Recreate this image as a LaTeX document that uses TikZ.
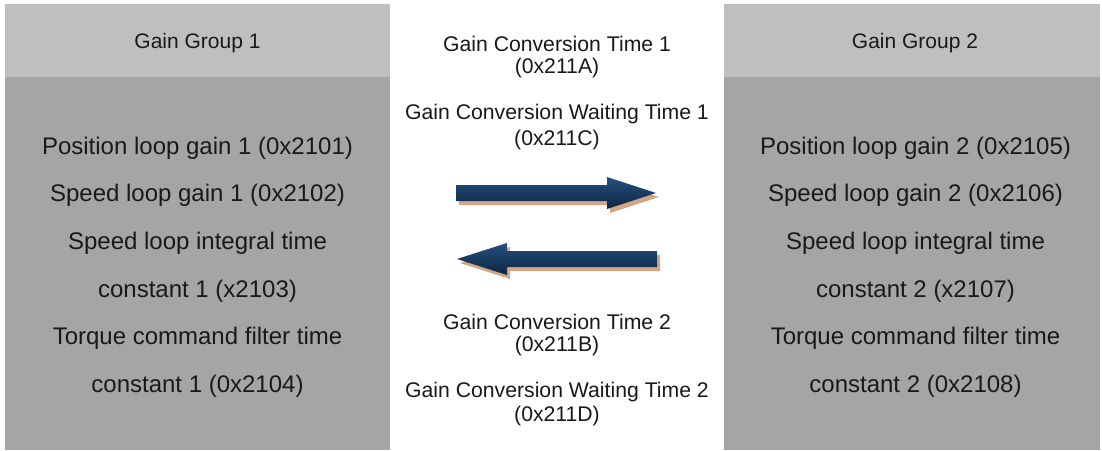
\documentclass[tikz,border=0pt]{standalone}
\usepackage{fontspec}
\setmainfont{Liberation Sans}
\definecolor{hdr}{HTML}{BFBFBF}
\definecolor{bod}{HTML}{A5A5A5}
\definecolor{shd}{HTML}{D2A687}
\definecolor{navytop}{HTML}{24507F}
\definecolor{navybot}{HTML}{0E2440}
\begin{document}
\begin{tikzpicture}[x=1pt,y=-1pt,
  big/.style={font=\fontsize{24}{24}\selectfont, text=black!90, inner sep=0pt, anchor=center},
  mid/.style={font=\fontsize{21.2}{21.2}\selectfont, text=black!90, inner sep=0pt, anchor=center},
  hd/.style={font=\fontsize{21}{21}\selectfont, text=black!90, inner sep=0pt, anchor=center},
  arrowfill/.style={top color=navytop, bottom color=navybot}]
\useasboundingbox (0,0) rectangle (1102,450);
\fill[white] (0,0) rectangle (1102,450);
% panels
\fill[hdr] (5,4) rectangle (390,77);
\fill[bod] (5,77) rectangle (390,450);
\fill[hdr] (724,4) rectangle (1100,77);
\fill[bod] (724,77) rectangle (1100,450);
\node[hd] (g1) at (197.5,43) {Gain Group 1};
\node[hd] (g2) at (915,43) {Gain Group 2};
% left lines
\node[big] (l1) at (197.5,148) {Position loop gain 1 (0x2101)};
\node[big] (l2) at (197.5,195) {Speed loop gain 1 (0x2102)};
\node[big] (l3) at (197.5,243) {Speed loop integral time};
\node[big] (l4) at (197.5,291) {constant 1 (x2103)};
\node[big] (l5) at (197.5,338) {Torque command filter time};
\node[big] (l6) at (197.5,386) {constant 1 (0x2104)};
% right lines
\node[big] (r1) at (915.5,148) {Position loop gain 2 (0x2105)};
\node[big] (r2) at (915.5,195) {Speed loop gain 2 (0x2106)};
\node[big] (r3) at (915.5,243) {Speed loop integral time};
\node[big] (r4) at (915.5,291) {constant 2 (x2107)};
\node[big] (r5) at (915.5,338) {Torque command filter time};
\node[big] (r6) at (915.5,386) {constant 2 (0x2108)};
% center texts
\node[mid] (c1) at (557,43.5) {Gain Conversion Time 1};
\node[mid] (c1b) at (557,68.5) {(0x211A)};
\node[mid] (c2) at (557,114.5) {Gain Conversion Waiting Time 1};
\node[mid] (c2b) at (557,140) {(0x211C)};
\node[mid] (c3) at (557,321.5) {Gain Conversion Time 2};
\node[mid] (c3b) at (557,346.5) {(0x211B)};
\node[mid] (c4) at (557,392.5) {Gain Conversion Waiting Time 2};
\node[mid] (c4b) at (557,416.5) {(0x211D)};
% right arrow
\fill[shd,shift={(3,4)}] (456,185) -- (607,185) -- (607,177) -- (656,193) -- (607,209) -- (607,201) -- (456,201) -- cycle;
\shade[arrowfill] (456,185) -- (607,185) -- (607,177) -- (656,193) -- (607,209) -- (607,201) -- (456,201) -- cycle;
% left arrow
\fill[shd,shift={(3,4)}] (657,251) -- (507,251) -- (507,243) -- (457,259) -- (507,275) -- (507,267) -- (657,267) -- cycle;
\shade[arrowfill] (657,251) -- (507,251) -- (507,243) -- (457,259) -- (507,275) -- (507,267) -- (657,267) -- cycle;
\end{tikzpicture}
\end{document}
